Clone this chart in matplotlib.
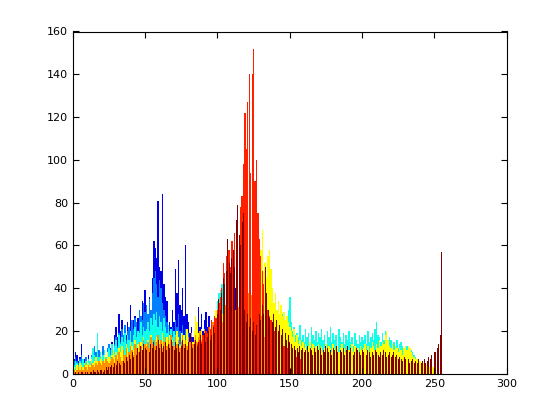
import numpy as np
import matplotlib
matplotlib.use('Agg')
import matplotlib.pyplot as plt

# histogram counts per colour series (bin index = grey level)
blue_start = 0
blue = [7,7,10,9,6,8,14,7,7,6, 5,9,6,8,4,6,5,8,10,6, 5,7,9,6,8,10,12,15,10,18,
        22,17,28,20,25,16,22,18,24,20, 32,19,25,27,21,26,30,24,34,27, 39,
        28,22,36,25,45,62,59,54,81,50, 48,84,42,36,34,20,24,22,30,24,
        49,38,53,32,30,40,27,60,28,24, 19,22,17,20,24,18,31,22,28,20,
        25,29,22,27,14,10,8,6,5,4, 3,2,20,30,25,22,28,49,30,35, 58,40,20]

azure_start = 0
azure = [5,6,8,6,5,7,9,6,5,8, 6,7,5,9,12,13,10,8,11,9, 7,13,10,8,12,14,
         11,13,10,14,17,13,19,15,21,18, 23,16,20,22,18,25,21,26,24,20, 30,27,25,33,29,
         32,28,35,30,38,45,48,42,36,44, 40,33,30,27,24,21,20,18,22,19,
         25,22,28,20,18,23,17,21,16,19, 15,18,14,17,16,13,15,12,14,11,
         13,10,9,8,6,5,4,3,2,2,
         2,2,2,15,20,14,18,24,16,20,22,30,54]

cyan_start = 0
cyan = [3,4,6,5,4,6,5,7,5,6, 4,7,6,8,12,9,7,19,8,10, 6,9,11,8,10,12,
        9,14,11,13,16,12,18,14,17,15, 19,13,18,16,20,15,18,22,17,20, 19,24,18,22,20,
        21,24,20,26,23,28,25,29,22,27, 24,20,26,22,19,23,18,21,17,20,
        18,15,17,14,16,19,13,15,12,16, 14,11,15,13,12,14,10,13,11,12,
        10,11,9,10,12,15,18,22,28,34,
        38,39,42,36,30,28,25,24,22,20, 26,23,21,25,22,20,24,22,19,23,
        21,24,20,23,19,22,25,21,24,20, 23,26,22,24,25,21,23,20,22,26,
        27,24,22,25,28,29,23,25,30,36,
        24,20,22,18,19,17,23,16,18,15, 21,17,19,14,22,18,16,20,15,19,
        17,21,16,18,14,20,17,22,15,19, 16,18,13,21,17,15,19,14,18,16,
        20,15,17,13,19,16,14,18,15,17,
        16,18,14,20,15,17,19,16,21,24, 18,17,15,19,16,20,18,15,17,16,
        14,15,13,16,12,14,15,13,12,11, 13,12,10,11,10,9,8,7,6,5,
        4,4,3,3,2,2,2,2,2,2]

yellow_start = 0
yellow = [2,3,2,4,3,5,4,3,5,4, 6,5,4,7,5,6,8,6,5,7, 8,6,9,7,10,8,7,9,11,8, 10,
          9,12,10,13,11,9,14,12,10,15, 13,11,16,12,14,10,15,13,17,12,
          14,16,11,18,13,15,12,17,14,16, 13,19,15,12,17,14,18,13,16,12,
          15,20,17,13,19,15,18,14,21,16, 13,18,15,20,27,24,19,16,21,18,
          15,20,17,22,19,24,21,26,30,28,
          30,32,28,26,24,29,31,27,25,30, 28,26,32,29,27,30,33,28,31,35,
          30,33,29,36,32,34,38,42,
          50,58,67,48,52,45,55,58,49,40, 33,38,30,34,28,32,27,29,25,27, 24,22,
          20,17,21,15,18,14,16,13,15,12, 14,11,13,15,12,14,11,13,12,14,
          11,13,10,12,14,11,13,12,10,14, 12,11,13,10,12,14,11,12,10,13,
          11,12,14,10,13,11,12,10,13,11,
          12,14,11,13,10,12,15,13,11,14, 12,16,13,15,14,18,20,16,13,12,
          14,11,13,12,10,12,11,9,12,13, 11,13,12,10,9,8,7,7,6,6,
          5,5,4,4,4,3,3,3,3,2]

orange_start = 0
orange = [1,2,1,2,3,2,3,2,4,3, 2,4,3,5,4,3,5,4,6,5, 4,6,5,7,6,5,
          6,8,7,5,9,7,10,8,6,11, 9,12,8,10,13,11,9,14,12,10, 15,13,11,16,14,
          13,15,12,17,14,16,13,15,18,14, 16,12,15,17,13,16,14,18,15,13,
          17,14,16,12,15,18,14,16,13,17, 15,19,14,16,18,15,17,20,16,18,
          21,17,19,22,18,20,24,21,23,26,
          25,28,24,30,27,32,29,26,31,28, 33,30,27,35,31,29,34,32,36,33,
          38,35,40,37,42,39,36,33,30,27, 24,20,17,14,12]

red_start = 85
red = [12,14,13,16,15,18,17,20,19,22, 21,25,23,27,26,30,
       33,36,40,52,47,55,44,58,50,62,56,66,60,72,64,78,83,
       98,122,105,127,140,94,140,152,90,100, 75,63,55,48,42,38,34,30,27,25, 22,20,19,
       18,17,16,15,14,13,12,12,11,11, 10,10,9,9,8,8,7,7,6,6]

darkred_start = 0
darkred = [0,0,1,0,1,0,1,1,0,1, 1,0,1,1,2,1,1,2,1,2, 2,1,2,3,2,3,
           3,4,3,5,4,6,5,4,7,6, 5,8,6,9,7,10,8,11,9,12, 10,13,11,14,12,
           11,13,10,14,12,15,11,13,16,12, 14,10,13,15,11,14,12,16,13,11,
           15,12,14,10,13,16,12,14,11,15, 13,17,12,14,16,13,15,18,14,16,
           19,15,17,20,16,18,22,19,24,28,
           35,30,38,45,42,48,63,52,47,54,58,50,72,79,65,60,71,75,
           30,24,28,22,26,20,24,18,23,20,28,25,
           32,28,50,38,30,26,33,24,28,22, 25,20,23,18,21,17,19,16,18,15,
           14,12,13,11,12,10,13,11,12,10, 11,13,10,12,11,9,12,10,13,11,
           12,9,11,10,13,12,10,11,9,12, 11,13,10,12,11,10,12,9,11,13,
           10,12,11,9,10,12,11,10,9,11,
           10,12,9,11,10,8,10,9,11,10, 9,8,10,9,11,10,8,9,10,8,
           9,10,8,9,7,8,7,6,8,7, 6,7,5,6,7,5,6,5,7,6,
           5,6,7,5,6,8,7,9,8,10,
           10,12,14,18,57]

# drawn in this order, later series cover earlier ones
series = [
    (blue_start, blue, '#0000e6', 1.0),
    (azure_start, azure, '#0080ff', 1.0),
    (cyan_start, cyan, '#10ffe8', 1.0),
    (yellow_start, yellow, '#ffff00', 1.0),
    (orange_start, orange, '#ff9000', 1.0),
    (red_start, red, '#ff2000', 0.85),
    (darkred_start, darkred, '#800000', 0.65),
]

fig = plt.figure(figsize=(5.6, 4.2), dpi=100)
ax = fig.add_axes([0.13, 0.11, 0.775, 0.815])

for start, vals, col, w in series:
    x = np.arange(start, start + len(vals))
    ax.bar(x, vals, width=w, color=col, linewidth=0, antialiased=False)

ax.set_xlim(0, 300)
ax.set_ylim(0, 160)
ax.set_xticks(range(0, 301, 50))
ax.set_yticks(range(0, 161, 20))
ax.tick_params(direction='in', top=True, right=True, length=4, width=0.8, labelsize=8)
for s in ax.spines.values():
    s.set_linewidth(0.8)

fig.savefig('out.png', dpi=100)
